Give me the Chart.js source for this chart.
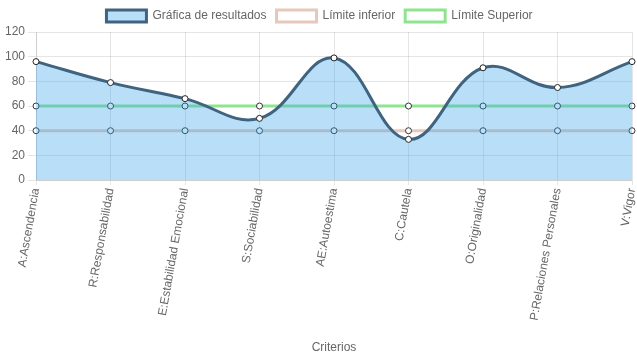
<!DOCTYPE html>
<html><head><meta charset="utf-8">
<script src="https://cdn.jsdelivr.net/npm/chart.js@4"></script>
<style>html,body{margin:0;padding:0;background:#fff}#w{width:637px;height:359px}</style>
</head><body><div id="w"><canvas id="c"></canvas></div>
<script>
const categories = ["A:Ascendencia","R:Responsabilidad","E:Estabilidad Emocional","S:Sociabilidad","AE:Autoestima","C:Cautela","O:Originalidad","P:Relaciones Personales","V:Vigor"];
const resultados = [96, 79, 66, 50, 99, 33, 91, 75, 96];
const limiteInferior = [40, 40, 40, 40, 40, 40, 40, 40, 40];
const limiteSuperior = [60, 60, 60, 60, 60, 60, 60, 60, 60];

Chart.defaults.font.family = "'Liberation Sans', Arial, sans-serif";
Chart.defaults.font.size = 12;
Chart.defaults.color = '#666';

new Chart(document.getElementById('c'), {
  type: 'line',
  data: {
    labels: categories,
    datasets: [
      { label: 'Gráfica de resultados', data: resultados, borderColor: '#40637f', backgroundColor: 'rgba(54,162,235,0.35)', borderWidth: 3, fill: 'origin', tension: 0.4, pointRadius: 3, pointBackgroundColor: '#fff', pointBorderColor: '#222', pointBorderWidth: 1 },
      { label: 'Límite inferior', data: limiteInferior, borderColor: 'rgb(232,200,188)', backgroundColor: '#fff', borderWidth: 3, fill: false, tension: 0.4, pointRadius: 3, pointBackgroundColor: '#fff', pointBorderColor: '#333', pointBorderWidth: 1 },
      { label: 'Límite Superior', data: limiteSuperior, borderColor: 'rgb(144,228,144)', backgroundColor: '#fff', borderWidth: 3, fill: false, tension: 0.4, pointRadius: 3, pointBackgroundColor: '#fff', pointBorderColor: '#333', pointBorderWidth: 1 }
    ]
  },
  options: {
    responsive: true, maintainAspectRatio: false, animation: false,
    layout: { padding: { right: 0, left: 2, top: 0 } },
    plugins: {
      legend: { labels: { boxWidth: 40, boxHeight: 12, color: '#666', padding: 10 } },
      tooltip: { enabled: false }
    },
    scales: {
      x: {
        grid: { color: 'rgba(0,0,0,0.1)', tickLength: 5 },
        ticks: { minRotation: 80, maxRotation: 80, autoSkip: false, color: '#666', padding: 2 },
        title: { display: true, text: 'Criterios', color: '#666', padding: { top: 17, bottom: 4 } },
        afterFit: s => { s.paddingRight = 4; }
      },
      y: {
        min: 0, max: 120,
        ticks: { stepSize: 20, color: '#666' },
        grid: { color: 'rgba(0,0,0,0.1)' }
      }
    }
  }
});
</script></body></html>
